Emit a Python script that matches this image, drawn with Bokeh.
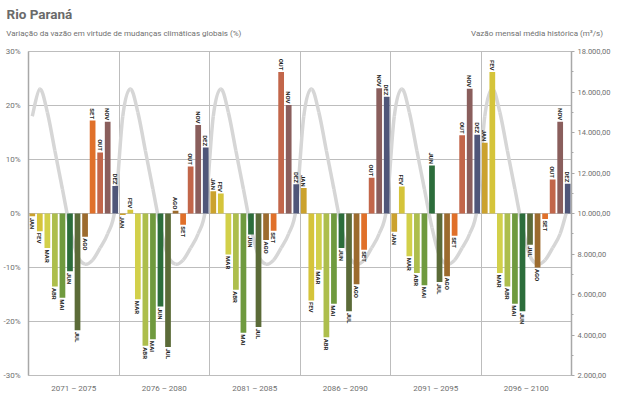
import math
from bokeh.plotting import figure
from bokeh.models import Range1d, LinearAxis, FixedTicker, ColumnDataSource
from bokeh.core.properties import value
from bokeh.embed import file_html
from bokeh.resources import INLINE

FONT = "Roboto"

months = ["JAN", "FEV", "MAR", "ABR", "MAI", "JUN", "JUL", "AGO", "SET", "OUT", "NOV", "DEZ"]
periods = ["2071 – 2075", "2076 – 2080", "2081 – 2085", "2086 – 2090", "2091 – 2095", "2096 – 2100"]
month_colors = ["#CBA22E", "#D5C43A", "#D2D04A", "#ADBE4C", "#6F9A3E", "#2C6D3B",
                "#5B6B38", "#9C6B2E", "#E0702A", "#C2664A", "#8A5E5C", "#4F5679"]

# variation (%) per period, JAN..DEZ
var_2071 = [-0.5, -3.3, -6.4, -13.5, -15.6, -10.7, -21.6, -4.3, 17.2, 11.3, 17.0, 5.1]
var_2076 = [-0.3, 0.7, -15.9, -24.5, -23.3, -17.2, -24.7, 0.5, -2.1, 8.7, 16.4, 12.2]
var_2081 = [4.1, 3.7, -7.6, -14.1, -22.1, -3.9, -21.0, -4.9, -3.2, 26.2, 20.1, 5.4]
var_2086 = [4.7, -16.1, -10.4, -22.9, -16.7, -6.4, -18.1, -13.1, -6.7, 6.6, 23.2, 21.6]
var_2091 = [-3.4, 5.0, -7.9, -11.0, -13.3, 8.9, -12.7, -11.6, -4.1, 14.5, 23.1, 14.6]
var_2096 = [13.1, 26.2, -11.0, -13.5, -16.7, -18.1, -5.8, -10.0, -1.0, 6.3, 17.0, 5.5]
variations = [var_2071, var_2076, var_2081, var_2086, var_2091, var_2096]

# historical mean monthly flow (m3/s), JAN..DEZ
flow_hist = [14800, 16150, 15000, 13100, 11200, 9300, 7900, 7500, 7700, 8300, 9000, 10300]

left_ticks = [-30, -20, -10, 0, 10, 20, 30]
right_ticks = [2000, 4000, 6000, 8000, 10000, 12000, 14000, 16000, 18000]
right_labels = ["2.000,00", "4.000,00", "6.000,00", "8.000,00", "10.000,00",
                "12.000,00", "14.000,00", "16.000,00", "18.000,00"]

title_text = "Rio Paraná"
subtitle_text = "Variação da vazão em virtude de mudanças climáticas globais (%)"
right_header_text = "Vazão mensal média histórica (m³/s)"

n_groups = len(periods)
n_m = len(months)
N = n_groups * n_m

xs, vals, cols, labs = [], [], [], []
for g, series in enumerate(variations):
    for m, v in enumerate(series):
        xs.append(g * n_m + m + 0.5)
        vals.append(v)
        cols.append(month_colors[m])
        labs.append(months[m])

# layout constants (pixels)
W, H = 618, 407
FRAME_L, FRAME_R, FRAME_T, FRAME_B = 27, 571, 50, 375
px_to_x = N / (FRAME_R - FRAME_L)

p = figure(width=W, height=H, x_range=Range1d(0, N), y_range=Range1d(-30, 30),
           output_backend="svg", toolbar_location=None, title=title_text,
           min_border_left=FRAME_L, min_border_right=W - FRAME_R,
           min_border_top=FRAME_T, min_border_bottom=H - FRAME_B)
p.extra_y_ranges = {"flow": Range1d(2000, 18000)}
p.outline_line_color = "#BDBDBD"

p.title.align = "left"
p.title.offset = 5 - FRAME_L
p.title.standoff = 7
p.title.text_font = FONT
p.title.text_font_style = "bold"
p.title.text_font_size = "13.5px"
p.title.text_color = "#6A6A6A"

p.ygrid.ticker = FixedTicker(ticks=[-20, -10, 0, 10, 20])
p.ygrid.grid_line_color = "#BDBDBD"
p.xgrid.ticker = FixedTicker(ticks=[12, 24, 36, 48, 60])
p.xgrid.grid_line_color = "#BDBDBD"

# historical flow curve (smooth Catmull-Rom through the monthly means), behind bars
fx = [i + 0.5 for i in range(N)]
fy = [flow_hist[i % n_m] for i in range(N)]
x0, y0, x1, y1, cx0, cy0, cx1, cy1 = [], [], [], [], [], [], [], []
for i in range(N - 1):
    pa = (fx[max(i - 1, 0)], fy[max(i - 1, 0)])
    pb = (fx[i], fy[i])
    pc = (fx[i + 1], fy[i + 1])
    pd = (fx[min(i + 2, N - 1)], fy[min(i + 2, N - 1)])
    x0.append(pb[0]); y0.append(pb[1]); x1.append(pc[0]); y1.append(pc[1])
    cx0.append(pb[0] + (pc[0] - pa[0]) / 6); cy0.append(pb[1] + (pc[1] - pa[1]) / 6)
    cx1.append(pc[0] - (pd[0] - pb[0]) / 6); cy1.append(pc[1] - (pd[1] - pb[1]) / 6)
p.bezier(x0=x0, y0=y0, x1=x1, y1=y1, cx0=cx0, cy0=cy0, cx1=cx1, cy1=cy1,
         line_color="#D6D6D6", line_width=3.5, y_range_name="flow")

src = ColumnDataSource(dict(x=xs, top=vals, color=cols, label=labs))
p.vbar(x="x", top="top", bottom=0, width=0.76, fill_color="color", line_color=None, source=src)

pos = [i for i, v in enumerate(vals) if v >= 0]
neg = [i for i, v in enumerate(vals) if v < 0]
src_pos = ColumnDataSource(dict(x=[xs[i] for i in pos], y=[vals[i] for i in pos], t=[labs[i] for i in pos]))
src_neg = ColumnDataSource(dict(x=[xs[i] for i in neg], y=[vals[i] for i in neg], t=[labs[i] for i in neg]))
common = dict(angle=-math.pi / 2, text_font=value(FONT), text_font_style="bold",
              text_font_size="6px", text_color="#1E1E1E", text_baseline="middle")
p.text(x="x", y="y", text="t", source=src_pos, text_align="right", y_offset=-1.5, **common)
p.text(x="x", y="y", text="t", source=src_neg, text_align="left", y_offset=1.5, **common)

# left axis (%)
ya = p.yaxis[0]
ya.ticker = FixedTicker(ticks=left_ticks)
ya.major_label_overrides = {t: f"{t}%" for t in left_ticks}
ya.major_tick_line_color = None
ya.minor_tick_line_color = None
ya.axis_line_color = "#A8A8A8"
ya.axis_line_width = 1.5
ya.major_label_text_font = FONT
ya.major_label_text_font_size = "8px"
ya.major_label_text_color = "#707070"
ya.major_label_standoff = 2

# right axis (m3/s)
ra = LinearAxis(y_range_name="flow",
                ticker=FixedTicker(ticks=right_ticks,
                                   minor_ticks=[t + 1000 for t in right_ticks[:-1]]),
                major_label_overrides=dict(zip(right_ticks, right_labels)))
ra.axis_line_color = "#A8A8A8"
ra.axis_line_width = 1.5
ra.major_tick_line_color = "#A8A8A8"
ra.minor_tick_line_color = "#A8A8A8"
ra.major_tick_in = 0
ra.major_tick_out = 3
ra.minor_tick_in = 0
ra.minor_tick_out = 2
ra.major_label_text_font = FONT
ra.major_label_text_font_size = "7.5px"
ra.major_label_text_color = "#707070"
ra.major_label_standoff = 3
p.add_layout(ra, "right")

# bottom axis (periods)
xa = p.xaxis[0]
xa.ticker = FixedTicker(ticks=[g * n_m + n_m / 2 for g in range(n_groups)])
xa.major_label_overrides = {g * n_m + n_m / 2: periods[g] for g in range(n_groups)}
xa.axis_line_color = None
xa.major_tick_line_color = None
xa.minor_tick_line_color = None
xa.major_label_text_font = FONT
xa.major_label_text_font_size = "8px"
xa.major_label_text_color = "#707070"
xa.major_label_standoff = 2

# header row: subtitle (left) and right-axis caption (right), as labels of a top axis
SUB_W, HDR_W = 235, 131          # approx. rendered text widths in px
sub_c = round((5 + SUB_W / 2 - FRAME_L) * px_to_x, 2)
hdr_c = round((602 - HDR_W / 2 - FRAME_L) * px_to_x, 2)
ta = LinearAxis(ticker=FixedTicker(ticks=[sub_c, hdr_c]),
                major_label_overrides={sub_c: subtitle_text, hdr_c: right_header_text})
ta.axis_line_color = None
ta.major_tick_line_color = None
ta.minor_tick_line_color = None
ta.major_label_text_font = FONT
ta.major_label_text_font_size = "8px"
ta.major_label_text_color = "#707070"
ta.major_label_standoff = 8
p.add_layout(ta, "above")

open("out.html", "w").write(file_html(p, INLINE))
